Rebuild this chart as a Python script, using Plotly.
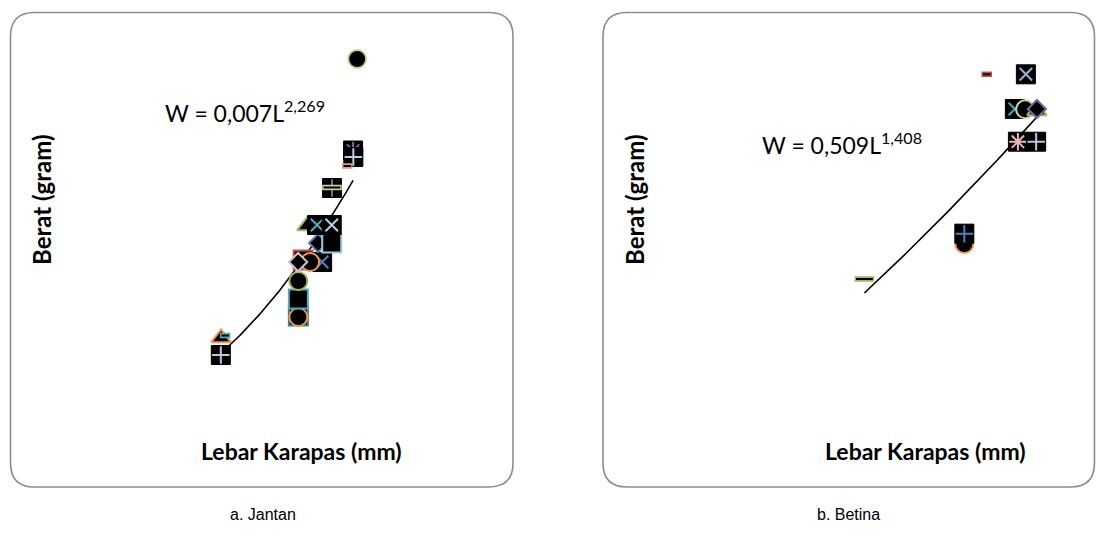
import plotly.graph_objects as go

# ---- Jantan (male): carapace width (mm) vs weight (g), drawn bottom-to-top ----
male_width = [111.8, 111.8, 111.8, 111.8, 113.8, 121.7, 116.7, 111.7,
              120.0, 125.7, 115.4, 119.6, 125.7, 125.8, 125.8,
              134.6, 134.7, 132.2, 136.3, 79.6, 81.3, 79.5]
male_weight = [215.2, 213.3, 247.6, 282.0, 322.1, 318.2, 318.2, 318.2,
               354.5, 354.5, 387.0, 388.9, 388.9, 459.5, 460.5,
               531.1, 518.7, 501.5, 705.8, 173.2, 177.9, 140.7]
male_symbol = ["square", "circle", "square", "circle", "square", "x", "circle", "diamond",
               "diamond", "square", "triangle", "x", "x", "plus", "longdash",
               "star", "plus", "dash", "circle", "triangle", "dash", "plus"]
male_color = ["#31859C", "#F79646", "#4BACC6", "#9BBB59", "#C0504D", "#4F81BD", "#F79646", "#CCC1DA",
              "#4F81BD", "#93CDDD", "#9BBB59", "#4BACC6", "#B9CDE5", "#8064A2", "#C3D69B",
              "#8064A2", "#B9CDE5", "#D99694", "#C3D69B", "#F79646", "#4BACC6", "#CCC1DA"]

# ---- Betina (female) ----
female_width = [117.3, 127.6, 124.7, 127.4, 130.5, 130.5, 125.5, 130.3, 85.1, 111.4, 111.4]
female_weight = [538.0, 538.0, 494.8, 494.4, 492.3, 494.8, 454.0, 454.0, 282.9, 326.5, 339.4]
female_symbol = ["dash", "x", "x", "circle", "triangle", "diamond", "star", "plus",
                 "longdash", "circle", "plus"]
female_color = ["#C0504D", "#95B3D7", "#4BACC6", "#C3D69B", "#9BBB59", "#8064A2", "#E6B9B8", "#CCC1DA",
                "#9BBB59", "#F79646", "#4F81BD"]

# power-law fits W = a * L^b
male_fit = (0.007, 2.269, 79.5, 134.6)      # a, b, L start, L end
female_fit = (0.509, 1.408, 85.1, 130.5)

male_eq = "W = 0,007L<sup>2,269</sup>"
female_eq = "W = 0,509L<sup>1,408</sup>"
x_title = "Lebar Karapas (mm)"
y_title = "Berat (gram)"
captions = ["a. Jantan", "b. Betina"]

W, H = 1096, 545
fig = go.Figure()


def fit_curve(a, b, l0, l1, n=80):
    xs = [l0 + (l1 - l0) * i / (n - 1) for i in range(n)]
    return xs, [a * x ** b for x in xs]


def add_point(x, y, kind, color, xa, ya):
    common = dict(x=[x], y=[y], mode="markers", xaxis=xa, yaxis=ya,
                  showlegend=False, hoverinfo="skip")
    if kind in ("circle", "square", "triangle", "diamond"):
        sym = {"circle": "circle", "square": "square",
               "triangle": "triangle-up", "diamond": "diamond"}[kind]
        size = {"circle": 18, "square": 19, "triangle": 17, "diamond": 14}[kind]
        fig.add_trace(go.Scatter(**common, marker=dict(
            symbol=sym, size=size, color="black",
            line=dict(color=color, width=2))))
    elif kind in ("x", "plus", "star"):
        fig.add_trace(go.Scatter(**common, marker=dict(
            symbol="square", size=19, color="black",
            line=dict(color="black", width=1))))
        sym = {"x": "x-thin-open", "plus": "cross-thin-open",
               "star": "asterisk-open"}[kind]
        size = {"x": 12.5, "plus": 12.5, "star": 14.5}[kind]
        fig.add_trace(go.Scatter(**common, marker=dict(
            symbol=sym, size=size, color=color,
            line=dict(color=color, width=2))))
    elif kind in ("dash", "longdash"):
        outer, inner = (7.5, 5.5) if kind == "dash" else (14, 12)
        fig.add_trace(go.Scatter(**common, marker=dict(
            symbol="line-ew-open", size=outer, color=color,
            line=dict(color=color, width=5.5))))
        fig.add_trace(go.Scatter(**common, marker=dict(
            symbol="line-ew-open", size=inner, color="black",
            line=dict(color="black", width=2))))


for (fit, xa, ya) in ((male_fit, "x", "y"), (female_fit, "x2", "y2")):
    cx, cy = fit_curve(*fit)
    fig.add_trace(go.Scatter(x=cx, y=cy, mode="lines", xaxis=xa, yaxis=ya,
                             line=dict(color="black", width=1.6),
                             showlegend=False, hoverinfo="skip"))

for x, y, k, c in zip(male_width, male_weight, male_symbol, male_color):
    add_point(x, y, k, c, "x", "y")
for x, y, k, c in zip(female_width, female_weight, female_symbol, female_color):
    add_point(x, y, k, c, "x2", "y2")

hidden = dict(visible=False, fixedrange=True)
fig.update_layout(
    width=W, height=H, autosize=False,
    margin=dict(l=0, r=0, t=0, b=0),
    paper_bgcolor="white", plot_bgcolor="rgba(0,0,0,0)",
    xaxis=dict(domain=[0, 0.5], range=[-12.5, 215.8], **hidden),
    yaxis=dict(domain=[0, 1], range=[-222.0, 818.4], anchor="x", **hidden),
    xaxis2=dict(domain=[0.5, 1], range=[1.84, 146.05], anchor="y2", **hidden),
    yaxis2=dict(domain=[0, 1], range=[-48.6, 630.6], anchor="x2", **hidden),
)


# rounded panel frames (paper coordinates)
def rounded_box(x0, y0, x1, y1, r):
    px = lambda v: v / W
    py = lambda v: 1 - v / H
    return ("M {a},{b} L {c},{b} Q {d},{b} {d},{e} L {d},{f} Q {d},{g} {c},{g} "
            "L {a},{g} Q {h},{g} {h},{f} L {h},{e} Q {h},{b} {a},{b} Z").format(
        a=px(x0 + r), b=py(y0), c=px(x1 - r), d=px(x1), e=py(y0 + r),
        f=py(y1 - r), g=py(y1), h=px(x0))


for box in ((10.5, 12.5, 513, 487), (603, 12.5, 1094.5, 487)):
    fig.add_shape(type="path", xref="paper", yref="paper",
                  path=rounded_box(*box, 24),
                  line=dict(color="#8C8C8C", width=1.6), layer="below")

font_lbl = "Lato, 'Open Sans', sans-serif"
ann = []
# equations
ann.append(dict(x=163 / W, y=1 - 111 / H, text=male_eq, xanchor="left", yanchor="middle",
                font=dict(family=font_lbl, size=23, color="black")))
ann.append(dict(x=760 / W, y=1 - 143 / H, text=female_eq, xanchor="left", yanchor="middle",
                font=dict(family=font_lbl, size=23, color="black")))
# axis titles
for cx in (301, 925):
    ann.append(dict(x=cx / W, y=1 - 451 / H, text="<b>" + x_title + "</b>",
                    xanchor="center", yanchor="middle",
                    font=dict(family=font_lbl, size=23, color="black")))
for cx in (41, 634):
    ann.append(dict(x=cx / W, y=1 - 200 / H, text="<b>" + y_title + "</b>",
                    xanchor="center", yanchor="middle", textangle=-90,
                    font=dict(family=font_lbl, size=24, color="black")))
# captions
for cx, t in zip((263, 848), captions):
    ann.append(dict(x=cx / W, y=1 - 514 / H, text=t, xanchor="center", yanchor="middle",
                    font=dict(family="'Liberation Sans', Arial, sans-serif", size=16,
                              color="black")))
for a in ann:
    a.update(xref="paper", yref="paper", showarrow=False)
fig.update_layout(annotations=ann)

fig.write_html("out.html")
